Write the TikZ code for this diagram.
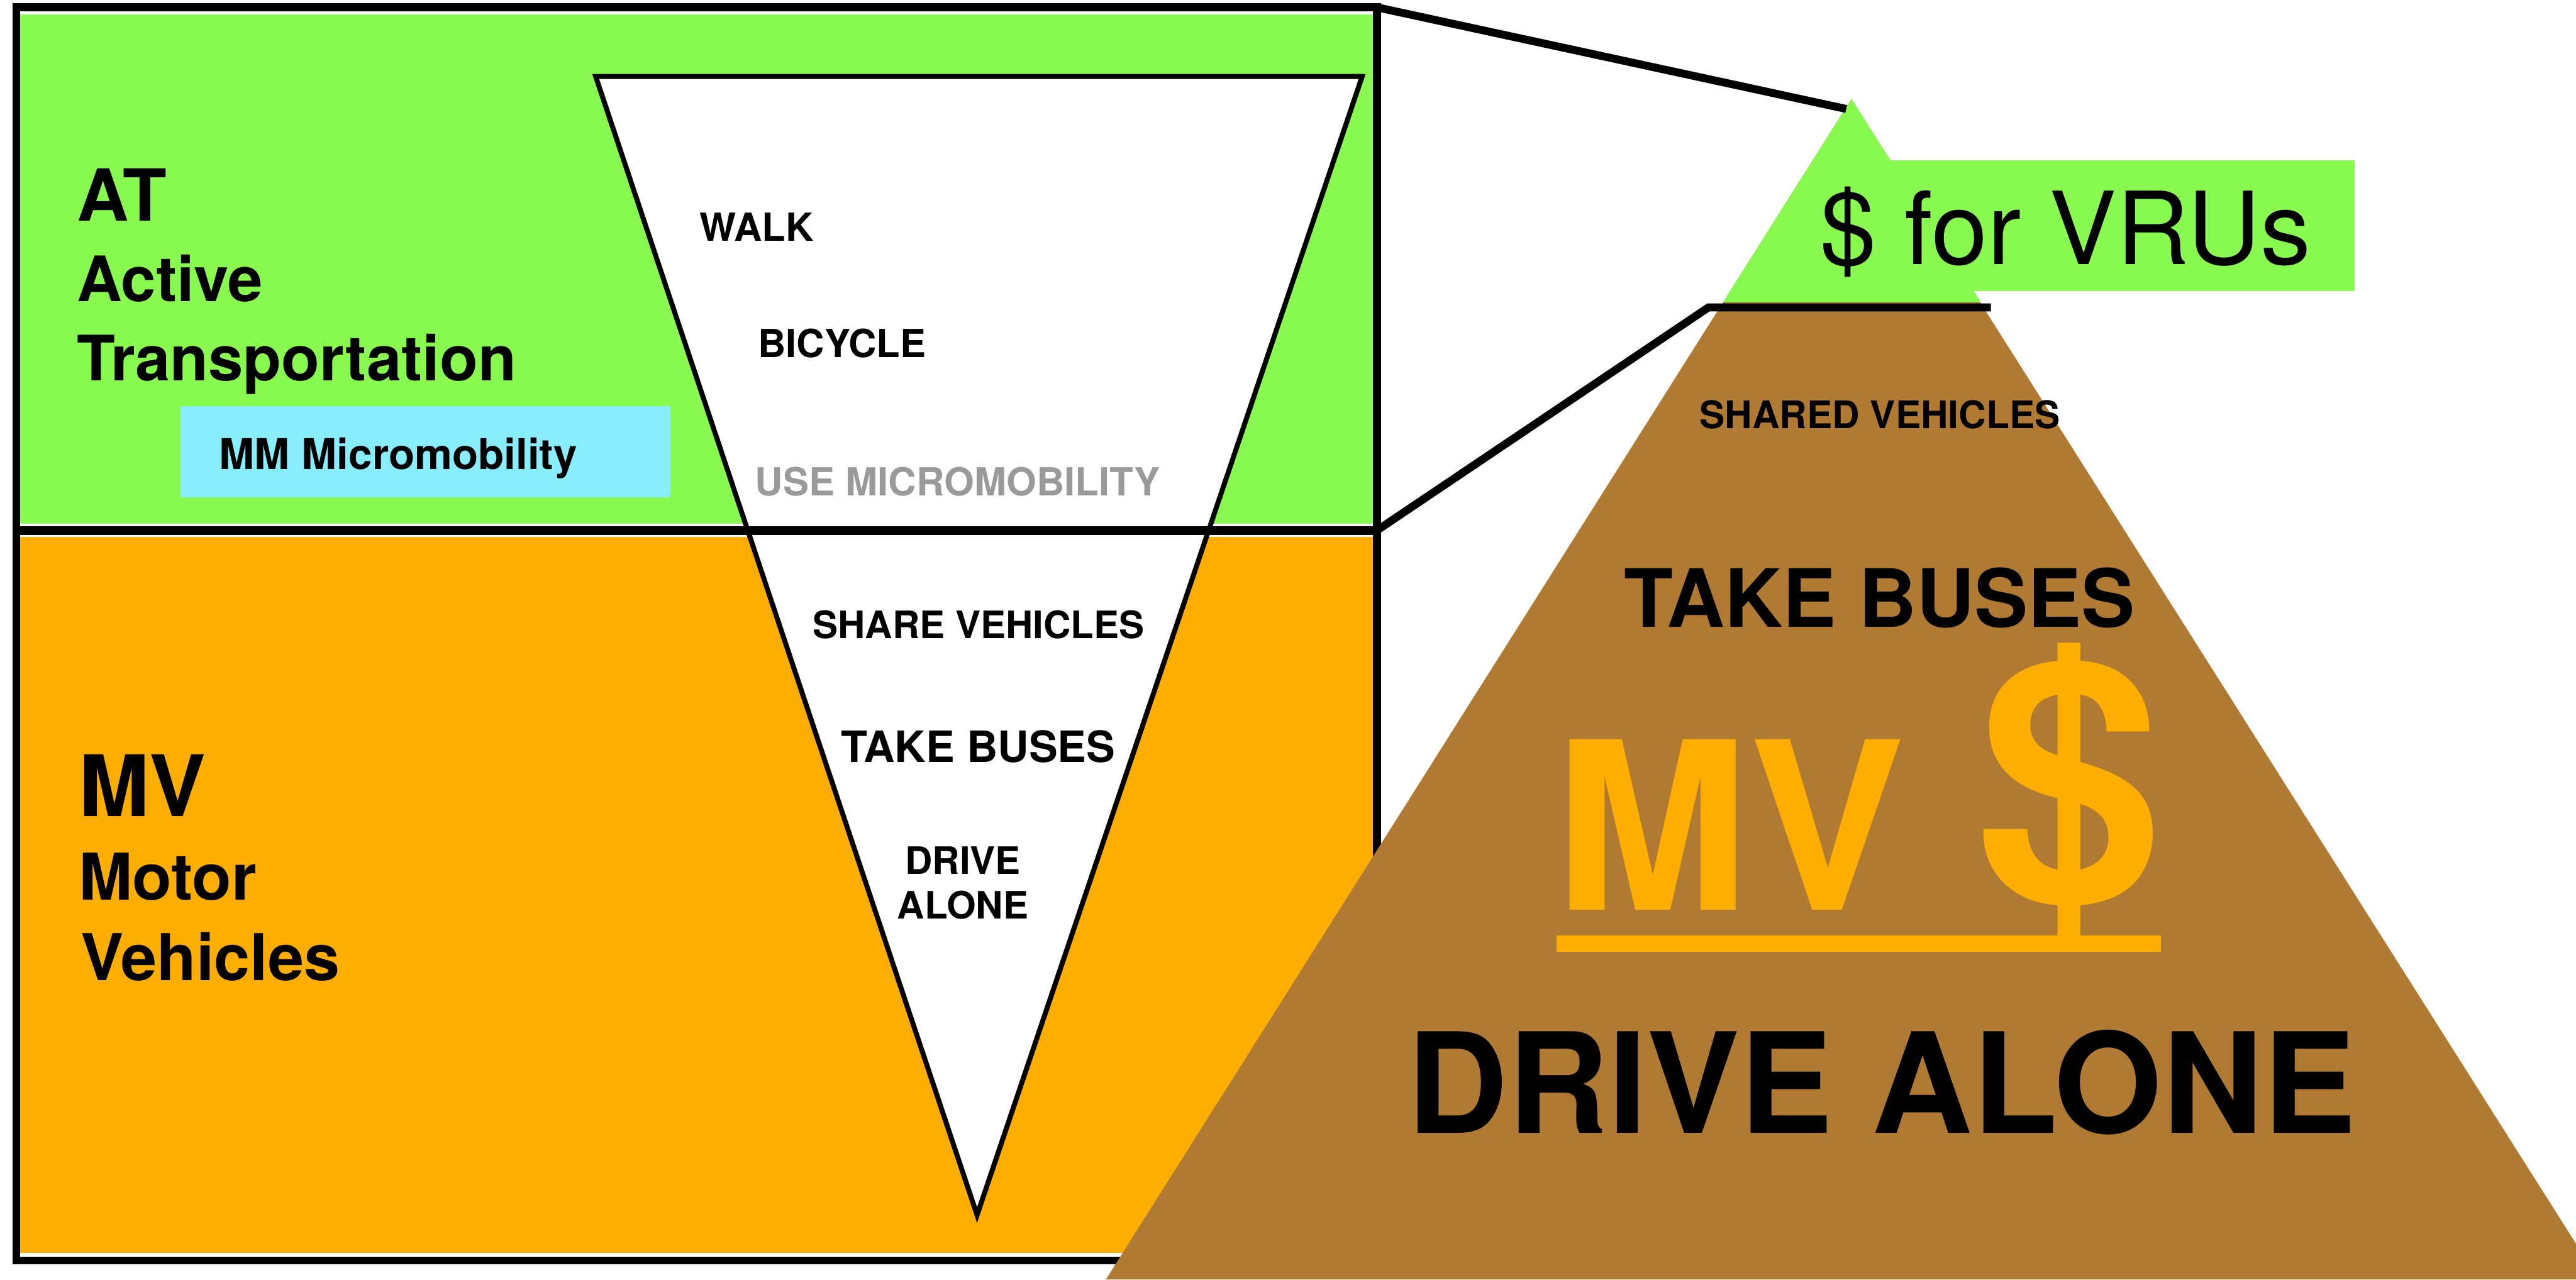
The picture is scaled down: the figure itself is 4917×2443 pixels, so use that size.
\documentclass[tikz,border=0pt]{standalone}
\usepackage{fontspec}
\setmainfont{TeX Gyre Heros}
\usepackage{tikz}
\usetikzlibrary{positioning, calc}
\definecolor{cGreen} {HTML}{88F94F}
\definecolor{cOrange}{HTML}{FEAE00}
\definecolor{cBrown} {HTML}{B17A33}
\definecolor{cCyan}  {HTML}{88EEFE}
\definecolor{cGray}  {HTML}{9A9A9A}

\begin{document}
\begin{tikzpicture}[
  x=0.01cm, y=-0.01cm,
  frame/.style={draw=black, line width=#1},
  funnel/.style={draw=black, fill=white, line width=2.7pt},
  link/.style={draw=black, line width=4.3pt},
  txt/.style={inner sep=0pt, font=\bfseries\fontsize{#1}{#1}\selectfont},
  rtxt/.style={inner sep=0pt, font=\fontsize{#1}{#1}\selectfont},
]
\useasboundingbox (0,0) rectangle (4917,2443);

%% ── Left panel: AT / MV bands ─────────────────────────────────────────
\fill[cGreen]  (38,28)   rectangle (2620,1000);
\fill[cOrange] (38,1025) rectangle (2623,2393);
\fill[cCyan]   (344,775) rectangle (1280,949);

%% ── Funnel (inverted triangle) ────────────────────────────────────────
\coordinate (fTL)  at (1137,146);
\coordinate (fTR)  at (2600,146);
\coordinate (fTip) at (1865,2320);
\draw[funnel] (fTL) -- (fTR) -- (fTip) -- cycle;

%% ── Frame + divider ───────────────────────────────────────────────────
\coordinate (boxNW) at (31,14);
\coordinate (boxSE) at (2628,2407);
\coordinate (midW)  at (31,1013);
\coordinate (midE)  at (2628,1013);
\draw[frame=4.3pt] (boxNW) rectangle (boxSE);
\draw[frame=4.8pt] (midW) -- (midE);

%% ── Pyramid ───────────────────────────────────────────────────────────
\coordinate (apex)  at (3534,189);
\coordinate (apexL) at (3524,208);
\coordinate (capL)  at (3261,587);
\coordinate (capR)  at (3800,587);
\fill[cBrown] (apex) -- (2111,2443) -- (4960,2443) -- cycle;
\fill[cGreen] (apex) -- (3289,577) -- (3781,577) -- cycle;
\fill[cGreen] (3560,306) rectangle (4494,556);

% (1) box corner -> top of pyramid
\draw[link] (boxNW -| boxSE) -- (apexL);
% (2) divider end -> cap line under the green tip
\draw[link] (midE) -- (capL) -- (capR);

%% ── Left texts ────────────────────────────────────────────────────────
\node[txt=39, anchor=base west] (at)     at (146,422) {AT};
\node[txt=34, anchor=base west] (active) at (146,576) {Active};
\node[txt=34, anchor=base west] (transp) at (146,727) {Transportation};
\node[txt=23, anchor=base west] (mm)     at (418,896) {MM Micromobility};

\node[txt=46, anchor=base west] (mv)       at (150,1559) {MV};
\node[txt=35, anchor=base west] (motor)    at (150,1719) {Motor};
\node[txt=35, anchor=base west] (vehicles) at (154,1872) {Vehicles};

%% ── Funnel texts ──────────────────────────────────────────────────────
\node[txt=21, anchor=base west] (walk)    at (1335,460) {WALK};
\node[txt=21, anchor=base west] (bicycle) at (1446,683) {BICYCLE};
\node[txt=21, anchor=base west, text=cGray] (usemm) at (1441,946) {USE MICROMOBILITY};

\node[txt=20.5, anchor=base] (share) at (1868,1219) {SHARE VEHICLES};
\node[txt=23.4, anchor=base] (buses) at (1867,1455) {TAKE BUSES};
\node[txt=20.5, anchor=base] (drive) at (1838,1669) {DRIVE};
\node[txt=20.5, anchor=base] (alone) at (1838,1755) {ALONE};

%% ── Pyramid texts ─────────────────────────────────────────────────────
\node[rtxt=54.7, anchor=base] (vrus)   at (3943,505)  {\$ for VRUs};
\node[txt=20.6, anchor=base]  (shared) at (3588,818)  {SHARED VEHICLES};
\node[txt=43.6, anchor=base]  (busesR) at (3588,1197) {TAKE BUSES};

\node[txt=127, anchor=base west, text=cOrange] (mvR)     at (2966,1738) {MV};
\node[txt=182, anchor=base, text=cOrange]      (dollarR) at (3950,1716) {\$};
\fill[cOrange] (2971,1786) rectangle (4125,1818);

\node[txt=75.7, anchor=base] (driveR) at (3591,2164) {DRIVE ALONE};

\end{tikzpicture}
\end{document}
